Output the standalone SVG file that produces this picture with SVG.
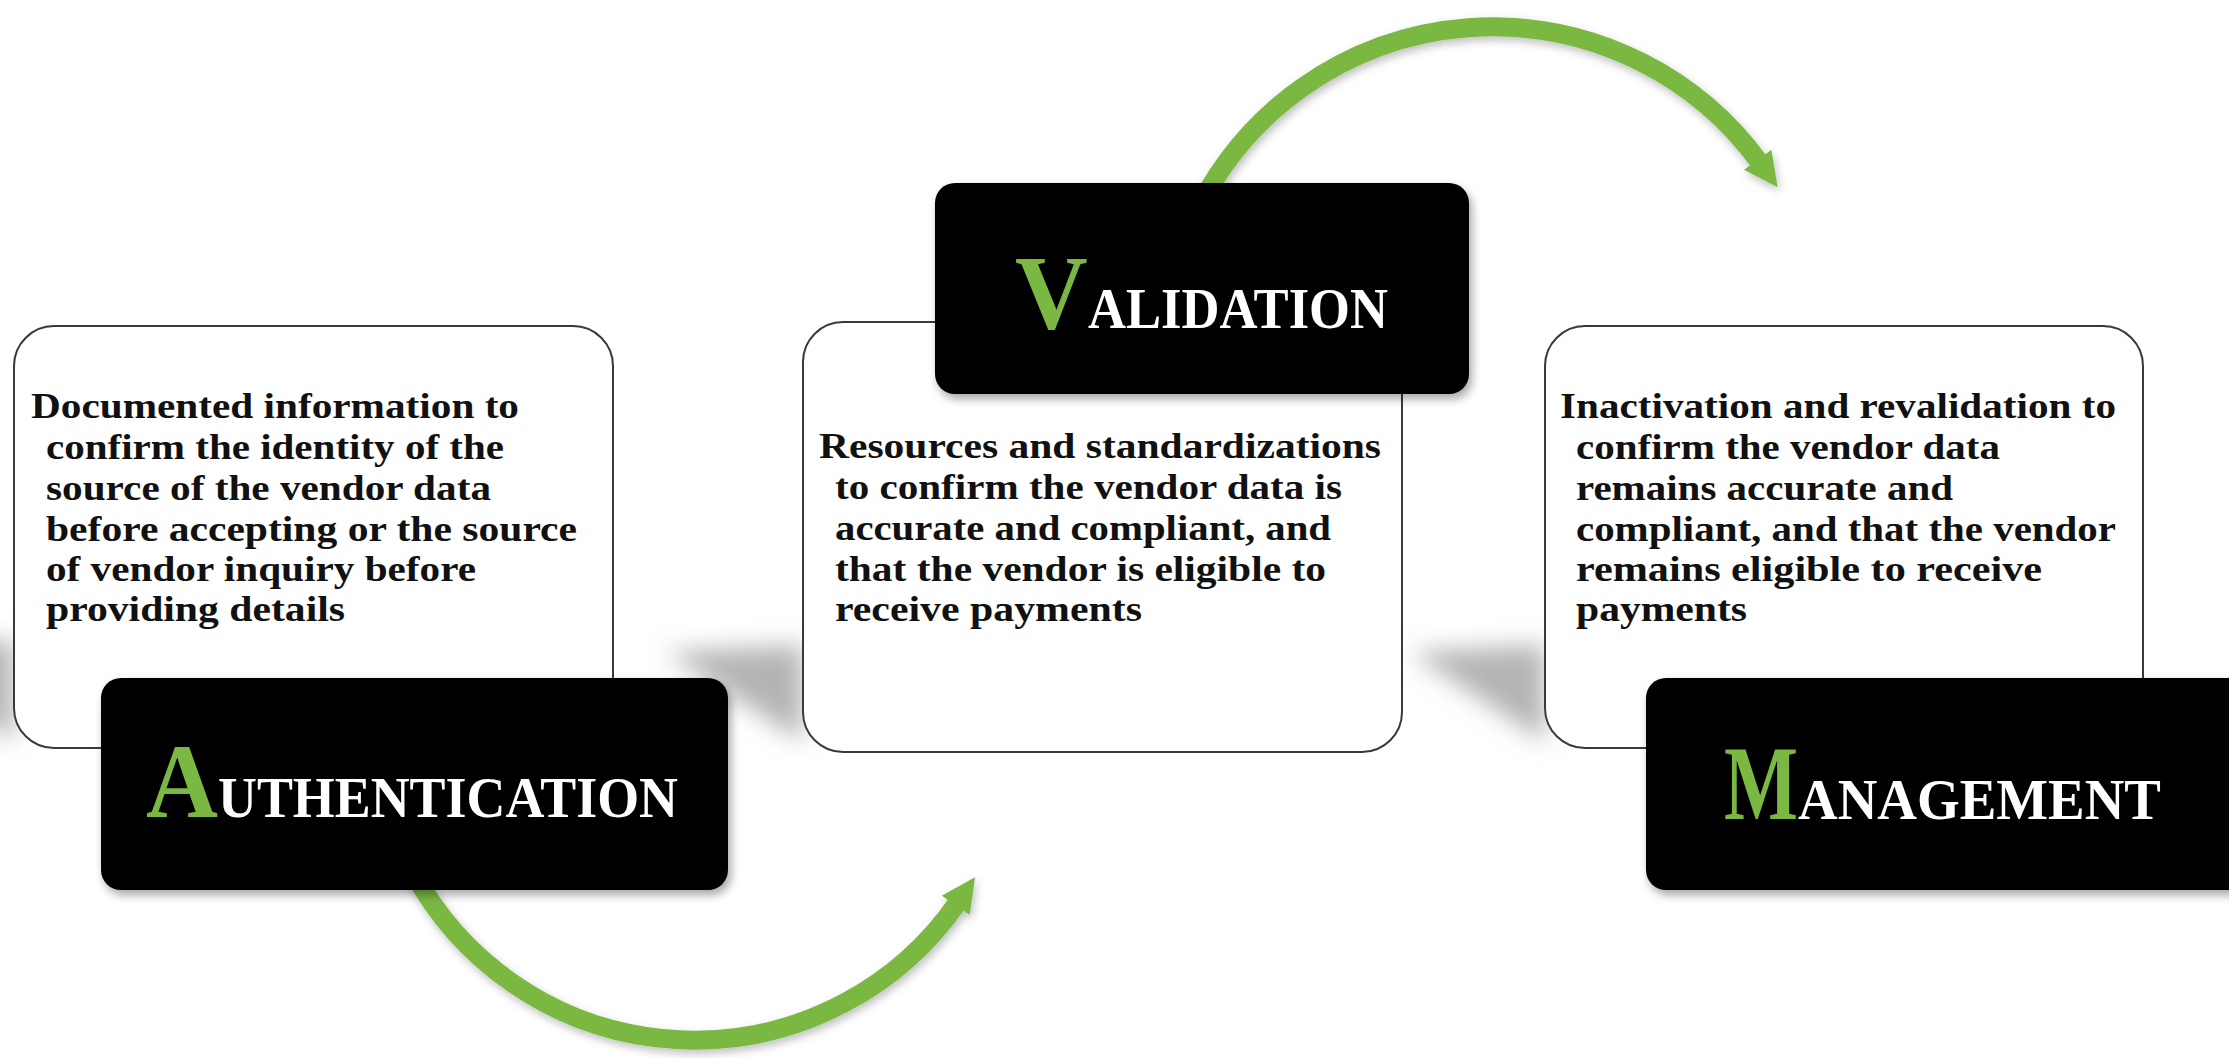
<svg xmlns="http://www.w3.org/2000/svg" width="2229" height="1059" viewBox="0 0 2229 1059">
<style>
.card{fill:#ffffff;stroke:#3a3a3a;stroke-width:2}
.title{fill:#000000}
.body{font-family:"Liberation Serif","DejaVu Serif",serif;font-weight:bold;font-size:36.5px;fill:#111111}
.big{font-family:"Liberation Serif","DejaVu Serif",serif;font-weight:bold;font-size:106px;fill:#7ab843}
.small{font-family:"Liberation Serif","DejaVu Serif",serif;font-weight:bold;font-size:57px;fill:#ffffff}
.arc{fill:none;stroke:#7ab843;stroke-width:19}
</style>
<defs>
<filter id="blur" x="-50%" y="-50%" width="200%" height="200%"><feGaussianBlur stdDeviation="12"/></filter>
<filter id="ds" x="-10%" y="-10%" width="125%" height="130%"><feDropShadow dx="3" dy="5" stdDeviation="5" flood-color="#000" flood-opacity="0.35"/></filter>
<filter id="as" x="-10%" y="-10%" width="120%" height="120%"><feDropShadow dx="2" dy="4" stdDeviation="4" flood-color="#000" flood-opacity="0.25"/></filter>
<marker id="head" markerUnits="userSpaceOnUse" markerWidth="40" markerHeight="40" refX="4" refY="20" orient="auto" viewBox="0 0 40 40">
<path d="M0,3 L34,20 L0,37 Z" fill="#7ab843"/>
</marker>
</defs>
<rect width="2229" height="1059" fill="#ffffff"/>

<g id="shadows" fill="#b4b4b4" filter="url(#blur)">
<path d="M14,640 L-120,648 L14,742 Z"/>
<path d="M803,645 L665,652 L803,742 Z"/>
<path d="M1545,645 L1410,652 L1545,742 Z"/>
</g>

<g id="connectors">
<path class="arc" filter="url(#as)" d="M412,870 A320,320 0 0 0 958,902" marker-end="url(#head)"/>
<path class="arc" filter="url(#as)" d="M1200,205 A330,330 0 0 1 1760,163" marker-end="url(#head)"/>
</g>

<g id="authentication">
<rect class="card" x="14" y="326" width="599" height="422" rx="40"/>
<text class="body" x="31" y="418" textLength="488" lengthAdjust="spacingAndGlyphs">Documented information to</text>
<text class="body" x="46" y="459" textLength="458" lengthAdjust="spacingAndGlyphs">confirm the identity of the</text>
<text class="body" x="46" y="500" textLength="445" lengthAdjust="spacingAndGlyphs">source of the vendor data</text>
<text class="body" x="46" y="541" textLength="531" lengthAdjust="spacingAndGlyphs">before accepting or the source</text>
<text class="body" x="46" y="581" textLength="430" lengthAdjust="spacingAndGlyphs">of vendor inquiry before</text>
<text class="body" x="46" y="621" textLength="299" lengthAdjust="spacingAndGlyphs">providing details</text>
<rect class="title" x="101" y="678" width="627" height="212" rx="20" filter="url(#ds)"/>
<text class="big" transform="translate(146,817) scale(0.94,1)">A</text>
<text class="small" x="218" y="817" textLength="460" lengthAdjust="spacingAndGlyphs">UTHENTICATION</text>
</g>

<g id="validation">
<rect class="card" x="803" y="322" width="599" height="430" rx="40"/>
<text class="body" x="819" y="458" textLength="562" lengthAdjust="spacingAndGlyphs">Resources and standardizations</text>
<text class="body" x="835" y="499" textLength="507" lengthAdjust="spacingAndGlyphs">to confirm the vendor data is</text>
<text class="body" x="835" y="540" textLength="496" lengthAdjust="spacingAndGlyphs">accurate and compliant, and</text>
<text class="body" x="835" y="581" textLength="491" lengthAdjust="spacingAndGlyphs">that the vendor is eligible to</text>
<text class="body" x="835" y="621" textLength="307" lengthAdjust="spacingAndGlyphs">receive payments</text>
<rect class="title" x="935" y="183" width="534" height="211" rx="20" filter="url(#ds)"/>
<text class="big" transform="translate(1015,328) scale(0.95,1)">V</text>
<text class="small" x="1088" y="328" textLength="300" lengthAdjust="spacingAndGlyphs">ALIDATION</text>
</g>

<g id="management">
<rect class="card" x="1545" y="326" width="598" height="422" rx="40"/>
<text class="body" x="1560" y="418" textLength="556" lengthAdjust="spacingAndGlyphs">Inactivation and revalidation to</text>
<text class="body" x="1576" y="459" textLength="424" lengthAdjust="spacingAndGlyphs">confirm the vendor data</text>
<text class="body" x="1576" y="500" textLength="377" lengthAdjust="spacingAndGlyphs">remains accurate and</text>
<text class="body" x="1576" y="541" textLength="540" lengthAdjust="spacingAndGlyphs">compliant, and that the vendor</text>
<text class="body" x="1576" y="581" textLength="466" lengthAdjust="spacingAndGlyphs">remains eligible to receive</text>
<text class="body" x="1576" y="621" textLength="171" lengthAdjust="spacingAndGlyphs">payments</text>
<rect class="title" x="1646" y="678" width="610" height="212" rx="20" filter="url(#ds)"/>
<text class="big" transform="translate(1724,819) scale(0.74,1)">M</text>
<text class="small" x="1798" y="819" textLength="363" lengthAdjust="spacingAndGlyphs">ANAGEMENT</text>
</g>
</svg>
